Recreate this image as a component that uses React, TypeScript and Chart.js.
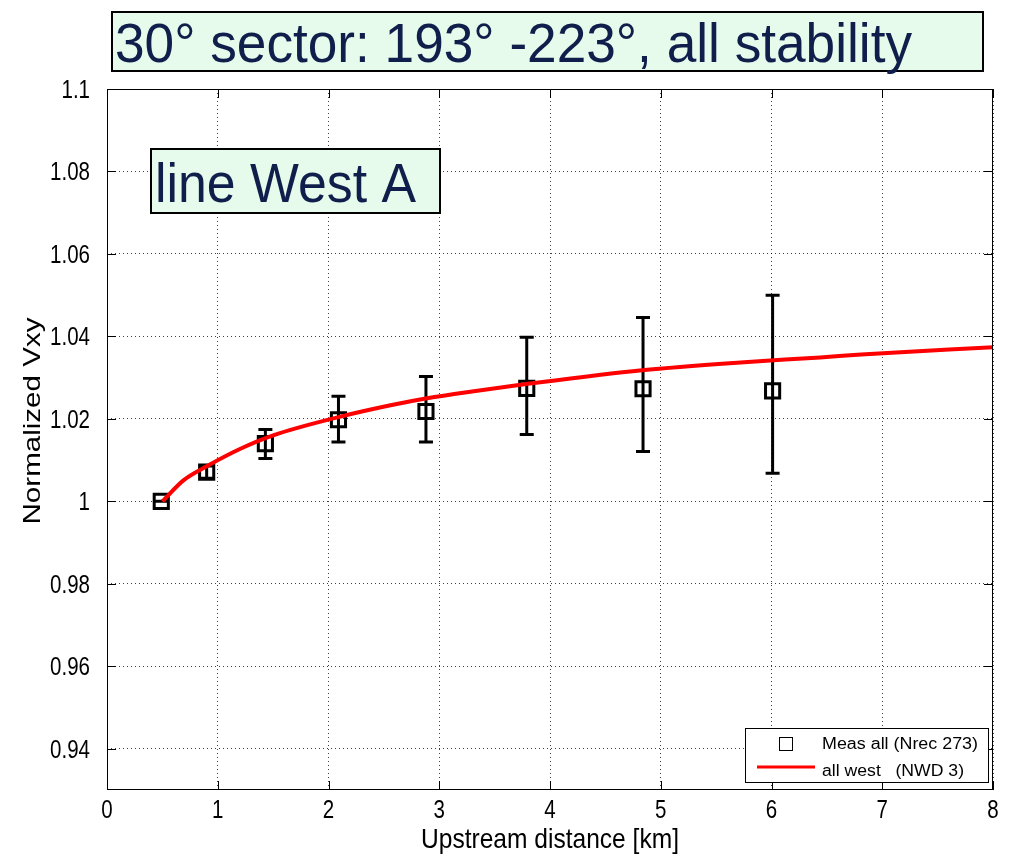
import React, { useEffect, useRef } from "react";
import { Chart, registerables } from "chart.js";

Chart.register(...registerables);

// Measured normalized wind speed with error bars
const measX = [0.49, 0.9, 1.43, 2.09, 2.88, 3.79, 4.84, 6.01];
const measY = [1.0, 1.0071, 1.014, 1.0198, 1.0218, 1.0274, 1.0273, 1.0268];
const measLow = [1.0, 1.0056, 1.0104, 1.0144, 1.0144, 1.0162, 1.0121, 1.0068];
const measHigh = [1.0, 1.0086, 1.0174, 1.0255, 1.0303, 1.0398, 1.0446, 1.05];

// Model curve "all west"
const fitX = [0.5, 0.69, 0.9, 1.2, 1.5, 2.1, 2.56, 2.89, 3.28, 3.8, 4.83, 5.72, 6.44, 6.81, 8];
const fitY = [1.0, 1.0051, 1.0085, 1.0127, 1.016, 1.0205, 1.0233, 1.025, 1.0266, 1.0285, 1.0318, 1.0337, 1.0349, 1.0356, 1.0374];

const xTicks = [0, 1, 2, 3, 4, 5, 6, 7, 8];
const xTickLabels = ["0", "1", "2", "3", "4", "5", "6", "7", "8"];
const yTicks = [0.94, 0.96, 0.98, 1.0, 1.02, 1.04, 1.06, 1.08, 1.1];
const yTickLabels = ["0.94", "0.96", "0.98", "1", "1.02", "1.04", "1.06", "1.08", "1.1"];

const titleText = "30\u00B0 sector: 193\u00B0 -223\u00B0, all stability";
const subtitleText = "line West A";
const legendLabels = ["Meas all (Nrec 273)", "all west   (NWD 3)"];
const xTitle = "Upstream distance [km]";
const yTitle = "Normalized Vxy";

const FONT = '"Liberation Sans", Arial, Helvetica, sans-serif';
const NAVY = "#0f1e4b";
const MINT = "#e6fbec";
const NARROW = 0.82;

type TextOpts = {
  align?: CanvasTextAlign;
  width?: number;
  sx?: number;
  color?: string;
  rotate?: number;
};

function drawText(
  ctx: CanvasRenderingContext2D,
  text: string,
  x: number,
  y: number,
  size: number,
  opts: TextOpts = {}
) {
  ctx.save();
  ctx.font = `${size}px ${FONT}`;
  ctx.fillStyle = opts.color || "#000";
  ctx.textBaseline = "alphabetic";
  ctx.textAlign = opts.align || "left";
  const natural = ctx.measureText(text).width;
  const sx = opts.width ? opts.width / natural : opts.sx ?? 1;
  ctx.translate(x, y);
  if (opts.rotate) ctx.rotate(opts.rotate);
  ctx.scale(sx, 1);
  ctx.fillText(text, 0, 0);
  ctx.restore();
}

const decorations = {
  id: "decorations",
  beforeDraw(chart: any) {
    const { ctx, width, height } = chart;
    ctx.save();
    ctx.fillStyle = "#fff";
    ctx.fillRect(0, 0, width, height);
    ctx.restore();
  },
  beforeDatasetsDraw(chart: any) {
    const { ctx } = chart;
    const xs = chart.scales.x;
    const ys = chart.scales.y;
    ctx.save();
    ctx.strokeStyle = "#000";
    ctx.lineWidth = 3;
    ctx.lineCap = "butt";
    const cap = 7;
    measX.forEach((v, i) => {
      const px = xs.getPixelForValue(v);
      const top = ys.getPixelForValue(measHigh[i]);
      const bot = ys.getPixelForValue(measLow[i]);
      ctx.beginPath();
      ctx.moveTo(px, top);
      ctx.lineTo(px, bot);
      ctx.moveTo(px - cap, top);
      ctx.lineTo(px + cap, top);
      ctx.moveTo(px - cap, bot);
      ctx.lineTo(px + cap, bot);
      ctx.stroke();
    });
    ctx.restore();
  },
  afterDraw(chart: any) {
    const { ctx, chartArea } = chart;
    const { left, right, top, bottom } = chartArea;
    const xs = chart.scales.x;
    const ys = chart.scales.y;

    // axes box and inward ticks
    ctx.save();
    ctx.strokeStyle = "#000";
    ctx.lineWidth = 1;
    ctx.strokeRect(left + 0.5, top + 0.5, right - left - 1, bottom - top - 1);
    const tl = 9;
    ctx.beginPath();
    xTicks.forEach((v) => {
      const px = Math.round(xs.getPixelForValue(v)) + 0.5;
      ctx.moveTo(px, bottom);
      ctx.lineTo(px, bottom - tl);
      ctx.moveTo(px, top);
      ctx.lineTo(px, top + tl);
    });
    yTicks.forEach((v) => {
      const py = Math.round(ys.getPixelForValue(v)) + 0.5;
      ctx.moveTo(left, py);
      ctx.lineTo(left + tl, py);
      ctx.moveTo(right, py);
      ctx.lineTo(right - tl, py);
    });
    ctx.stroke();
    ctx.restore();

    // tick labels
    xTicks.forEach((v, i) => {
      drawText(ctx, xTickLabels[i], xs.getPixelForValue(v), 818, 25, { align: "center", sx: NARROW });
    });
    yTicks.forEach((v, i) => {
      drawText(ctx, yTickLabels[i], 90, ys.getPixelForValue(v) + 9, 25, { align: "right", sx: NARROW });
    });

    // axis titles
    drawText(ctx, xTitle, (left + right) / 2, 848, 28, { align: "center", width: 258 });
    drawText(ctx, yTitle, 40, 421, 24, { align: "center", width: 207, rotate: -Math.PI / 2 });

    // headline box
    ctx.save();
    ctx.fillStyle = MINT;
    ctx.fillRect(112, 12, 871, 59);
    ctx.strokeStyle = "#000";
    ctx.lineWidth = 2;
    ctx.strokeRect(112, 12, 871, 59);
    ctx.restore();
    drawText(ctx, titleText, 115, 62, 56, { width: 797, color: NAVY });

    // line name box
    ctx.save();
    ctx.fillStyle = MINT;
    ctx.fillRect(151, 149, 289, 64);
    ctx.strokeStyle = "#000";
    ctx.lineWidth = 2;
    ctx.strokeRect(151, 149, 289, 64);
    ctx.restore();
    drawText(ctx, subtitleText, 155, 202, 56, { width: 261, color: NAVY });

    // legend
    ctx.save();
    ctx.fillStyle = "#fff";
    ctx.fillRect(745.5, 728.5, 243, 54);
    ctx.strokeStyle = "#000";
    ctx.lineWidth = 1;
    ctx.strokeRect(745.5, 728.5, 243, 54);
    ctx.strokeRect(779.5, 737.5, 13, 13);
    ctx.strokeStyle = "#ff0000";
    ctx.lineWidth = 3;
    ctx.beginPath();
    ctx.moveTo(757, 767);
    ctx.lineTo(815, 767);
    ctx.stroke();
    ctx.restore();
    drawText(ctx, legendLabels[0], 822, 749, 16, { width: 156 });
    drawText(ctx, legendLabels[1], 822, 776, 16, { width: 142 });
  },
};

export default function App() {
  const canvasRef = useRef<HTMLCanvasElement | null>(null);

  useEffect(() => {
    const canvas = canvasRef.current;
    if (!canvas) return;
    const chart = new Chart(canvas, {
      type: "scatter",
      data: {
        datasets: [
          {
            label: legendLabels[0],
            data: measX.map((x, i) => ({ x, y: measY[i] })),
            showLine: false,
            pointStyle: "rect",
            pointRadius: 10,
            pointHoverRadius: 10,
            pointBorderWidth: 3,
            pointBorderColor: "#000",
            pointBackgroundColor: "rgba(0,0,0,0)",
            order: 1,
          },
          {
            label: legendLabels[1],
            data: fitX.map((x, i) => ({ x, y: fitY[i] })),
            showLine: true,
            borderColor: "#ff0000",
            borderWidth: 4,
            pointRadius: 0,
            pointHoverRadius: 0,
            cubicInterpolationMode: "monotone",
            fill: false,
            order: 0,
          },
        ],
      },
      options: {
        responsive: false,
        animation: false,
        devicePixelRatio: 1,
        layout: { padding: { left: 107, right: 16, top: 89, bottom: 66 } },
        plugins: {
          legend: { display: false },
          tooltip: { enabled: false },
          title: { display: false },
        },
        events: [],
        scales: {
          x: {
            type: "linear",
            min: 0,
            max: 8,
            afterBuildTicks: (s: any) => {
              s.ticks = xTicks.map((value) => ({ value }));
            },
            afterFit: (s: any) => {
              s.height = 0;
            },
            ticks: { display: false },
            grid: { color: "rgba(0,0,0,0.75)", lineWidth: 1, drawTicks: false },
            border: { display: false, dash: [1, 3] },
          },
          y: {
            type: "linear",
            min: 0.93,
            max: 1.1,
            afterBuildTicks: (s: any) => {
              s.ticks = yTicks.map((value) => ({ value }));
            },
            afterFit: (s: any) => {
              s.width = 0;
            },
            ticks: { display: false },
            grid: { color: "rgba(0,0,0,0.75)", lineWidth: 1, drawTicks: false },
            border: { display: false, dash: [1, 3] },
          },
        },
      },
      plugins: [decorations],
    });
    return () => chart.destroy();
  }, []);

  return (
    <div style={{ position: "absolute", left: 0, top: 0, width: 1009, height: 856, background: "#fff" }}>
      <canvas ref={canvasRef} width={1009} height={856} />
    </div>
  );
}
